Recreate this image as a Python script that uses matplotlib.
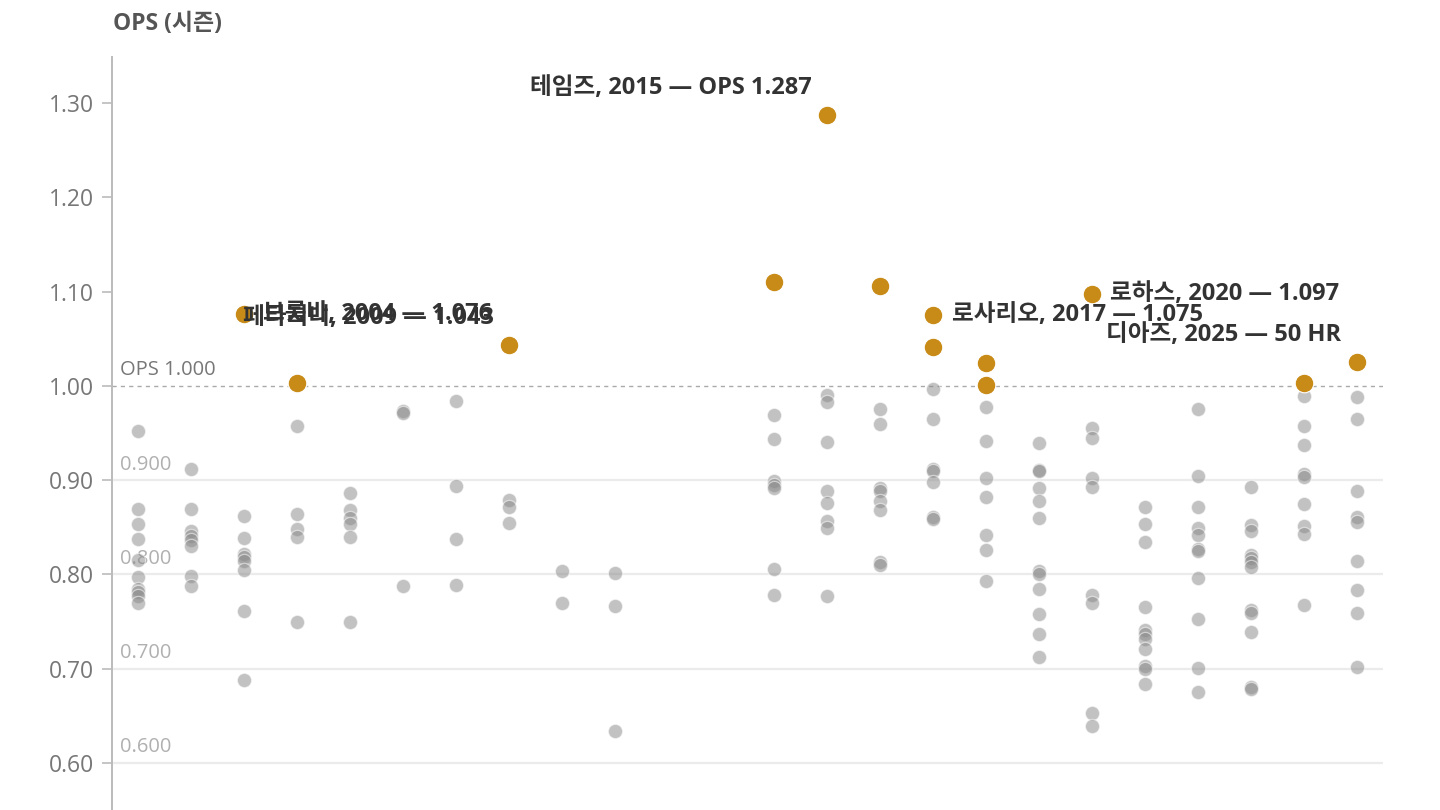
import matplotlib
matplotlib.use("Agg")
import matplotlib.pyplot as plt

plt.rcParams['font.family'] = ['Open Sans', 'Noto Sans CJK KR', 'DejaVu Sans']

# ---- data ----
gray_years = {
    2002: [0.952, 0.869, 0.854, 0.838, 0.815, 0.797, 0.785, 0.781, 0.777, 0.770],
    2003: [0.912, 0.869, 0.846, 0.841, 0.837, 0.830, 0.798, 0.788],
    2004: [0.862, 0.839, 0.822, 0.818, 0.814, 0.805, 0.761, 0.688],
    2005: [0.957, 0.864, 0.848, 0.840, 0.750],
    2006: [0.886, 0.868, 0.860, 0.854, 0.840, 0.750],
    2007: [0.973, 0.971, 0.788],
    2008: [0.984, 0.894, 0.838, 0.789],
    2009: [0.879, 0.872, 0.855],
    2010: [0.804, 0.770],
    2011: [0.801, 0.766, 0.634],
    2014: [0.969, 0.944, 0.899, 0.895, 0.892, 0.806, 0.778],
    2015: [0.990, 0.983, 0.941, 0.889, 0.876, 0.857, 0.849, 0.777],
    2016: [0.975, 0.960, 0.892, 0.888, 0.878, 0.868, 0.813, 0.810],
    2017: [0.997, 0.965, 0.912, 0.910, 0.898, 0.861, 0.859],
    2018: [0.978, 0.942, 0.902, 0.882, 0.842, 0.826, 0.793],
    2019: [0.939, 0.911, 0.910, 0.892, 0.878, 0.860, 0.804, 0.800, 0.784, 0.758, 0.737, 0.712],
    2020: [0.955, 0.945, 0.902, 0.893, 0.778, 0.770, 0.653, 0.639],
    2021: [0.872, 0.854, 0.834, 0.765, 0.741, 0.737, 0.731, 0.721, 0.703, 0.700, 0.684],
    2022: [0.976, 0.904, 0.871, 0.849, 0.842, 0.827, 0.825, 0.796, 0.753, 0.701, 0.675],
    2023: [0.893, 0.852, 0.846, 0.821, 0.817, 0.813, 0.808, 0.762, 0.759, 0.739, 0.681, 0.678],
    2024: [0.989, 0.957, 0.937, 0.906, 0.903, 0.875, 0.851, 0.843, 0.767],
    2025: [0.988, 0.965, 0.889, 0.861, 0.856, 0.814, 0.783, 0.759, 0.702],
}

gold_years = [2004, 2005, 2009, 2014, 2015, 2016, 2017, 2017, 2018, 2018, 2020, 2024, 2025]
gold_ops = [1.076, 1.003, 1.043, 1.110, 1.287, 1.106, 1.075, 1.041, 1.024, 1.001, 1.097, 1.003, 1.025]

label_texts = ["브룸바, 2004 — 1.076", "페타지니, 2009 — 1.043", "테임즈, 2015 — OPS 1.287",
               "로사리오, 2017 — 1.075", "로하스, 2020 — 1.097", "디아즈, 2025 — 50 HR"]
label_years = [2004, 2009, 2015, 2017, 2020, 2025]
label_ops = [1.076, 1.043, 1.287, 1.075, 1.097, 1.025]
label_side = ["right", "left", "left", "right", "right", "left"]

yticks = [0.60, 0.70, 0.80, 0.90, 1.00, 1.10, 1.20, 1.30]
grid_levels = [0.60, 0.70, 0.80, 0.90]
grid_labels = ["0.600", "0.700", "0.800", "0.900"]

# ---- figure ----
fig = plt.figure(figsize=(14.4, 8.1), dpi=100)
ax = fig.add_axes([112 / 1440, 0, (1383 - 112) / 1440, 1 - 57 / 810])
ax.set_xlim(2001.5, 2025.5)
ax.set_ylim(0.55, 1.349)

for lv in grid_levels:
    ax.axhline(lv, color='#ebebeb', lw=1.6, zorder=0)
ax.axhline(1.0, color='#aaaaaa', lw=1.0, ls=(0, (3, 3)), zorder=0)

for lv, lb in zip(grid_levels, grid_labels):
    ax.annotate(lb, xy=(0, lv), xycoords=('axes fraction', 'data'),
                xytext=(6, 4), textcoords='offset points',
                ha='left', va='bottom', fontsize=14.5, color='#b0b0b0', zorder=1)
ax.annotate("OPS 1.000", xy=(0, 1.0), xycoords=('axes fraction', 'data'),
            xytext=(6, 4), textcoords='offset points',
            ha='left', va='bottom', fontsize=14.5, color='#777777', zorder=1)

gx, gy = [], []
for yr, vals in gray_years.items():
    for v in vals:
        gx.append(yr)
        gy.append(v)
ax.scatter(gx, gy, s=105, color='#8a8a8a', alpha=0.52, edgecolors='white',
           linewidths=0.9, zorder=2)
ax.scatter(gold_years, gold_ops, s=180, color='#C88B17', edgecolors='white',
           linewidths=0.8, zorder=3)

for t, yr, v, side in zip(label_texts, label_years, label_ops, label_side):
    if side == "right":
        off = (13.5, 0)
        ha = 'left'
    else:
        off = (-11, 20)
        ha = 'right'
    ax.annotate(t, xy=(yr, v), xytext=off, textcoords='offset points',
                ha=ha, va='center', fontsize=17, fontweight='bold', color='#333333', zorder=4)

ax.set_yticks(yticks)
ax.set_yticklabels([f"{t:.2f}" for t in yticks])
ax.tick_params(axis='y', colors='#bbbbbb', labelcolor='#777777', labelsize=16.5,
               length=7, width=1.2, pad=6)
ax.set_xticks([])
for s in ['top', 'right', 'bottom']:
    ax.spines[s].set_visible(False)
ax.spines['left'].set_color('#bbbbbb')
ax.spines['left'].set_linewidth(1.4)

fig.text(113 / 1440, 1 - 24 / 810, "OPS (시즌)", ha='left', va='center',
         fontsize=16.5, fontweight='bold', color='#555555')

fig.savefig("out.png", dpi=100, facecolor='white')
